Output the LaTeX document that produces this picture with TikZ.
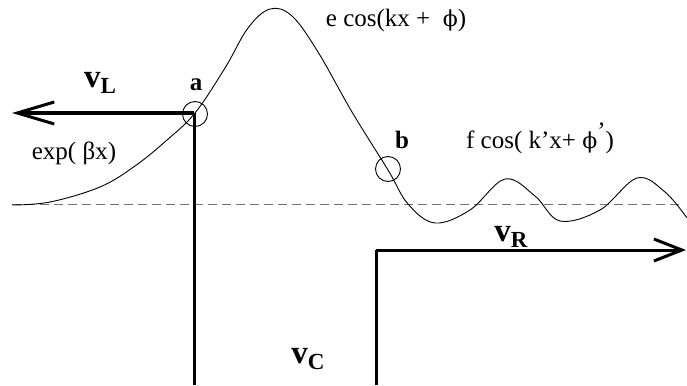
\documentclass[tikz,border=0pt]{standalone}
\usepackage{fontspec}
\setmainfont{Liberation Serif}
\newfontfamily\phifont{DejaVu Serif}
\usetikzlibrary{arrows.meta}
\newcommand{\myphi}{{\phifont\fontsize{22}{22}\selectfont\char"03D5}}
\begin{document}
\begin{tikzpicture}[x=1pt,y=-1pt,
  thickline/.style={line width=3pt},
  wave/.style={line width=0.9pt},
  marker/.style={draw,circle,line width=0.9pt,minimum size=25pt,inner sep=0pt},
  lbl/.style={font=\fontsize{25}{25}\selectfont,inner sep=0pt},
  blbl/.style={font=\bfseries\fontsize{25}{25}\selectfont,inner sep=0pt},
  vlbl/.style={font=\bfseries\fontsize{33}{33}\selectfont,inner sep=0pt},
  base/.style={gray!90!black,line width=0.9pt,dash pattern=on 9pt off 5pt}]
\useasboundingbox (0,0) rectangle (687,385);
% baseline
\coordinate (d0) at (12,204);
\coordinate (d1) at (680,204);
\draw[base] (d0) -- (d1);
% left potential
\coordinate (cl) at (194,113);
\coordinate (tl) at (12,113);
\coordinate (bl) at (194,385);
\draw[thickline,-{Straight Barb[length=37pt,width=22pt,line width=3pt]}] (cl) -- (tl);
\draw[thickline] (cl) -- (bl);
% right potential
\coordinate (cr) at (376,250);
\coordinate (tr) at (686,250);
\coordinate (br) at (376,385);
\draw[thickline,-{Straight Barb[length=28pt,width=22pt,line width=3pt]}] (cr) -- (tr);
\draw[thickline] (cr) -- (br);
% wave
\draw[wave] plot[smooth,tension=0.6] coordinates {
 (12,205) (50,202) (100,187) (135,166) (167,140) (195,113) (225,68) (248,28) (270,9) (292,16) (318,52) (352,112) (388,170) (408,204) (435,223) (470,210) (505,179) (535,196) (560,221) (600,210) (637,178) (665,192) (687,218)};
% markers
\node[marker] (a) at (195,114) {};
\node[marker] (b) at (388,169) {};
% labels
\node[blbl] (la) at (196,85) {a};
\node[blbl] (lb) at (402,140) {b};
\node[vlbl] (vl) at (100,83) {v\raisebox{-6pt}{\fontsize{23}{23}\selectfont L}};
\node[vlbl] (vr) at (511,237) {v\raisebox{-6pt}{\fontsize{23}{23}\selectfont R}};
\node[vlbl] (vc) at (308,359) {v\raisebox{-6pt}{\fontsize{23}{23}\selectfont C}};
\node[lbl] (ex) at (74,153) {exp( βx)};
\node[lbl] (ec) at (396,20) {e cos(kx +\ \ \myphi)};
\node[lbl] (fc) at (540,138) {f cos( k’x+ \myphi\raisebox{9pt}{’})};
\end{tikzpicture}
\end{document}
